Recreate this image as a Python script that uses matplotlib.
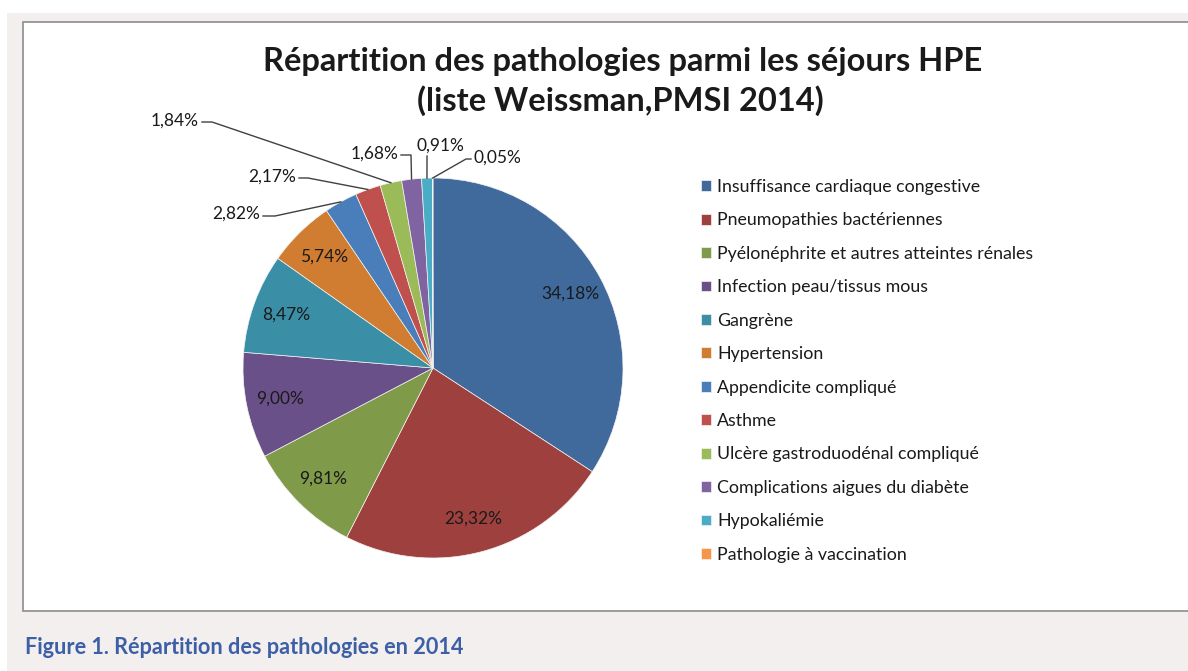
import matplotlib
matplotlib.use("Agg")
import matplotlib.pyplot as plt
from matplotlib.patches import Rectangle
import numpy as np

plt.rcParams['font.family'] = ['Lato', 'DejaVu Sans']

categories = ["Insuffisance cardiaque congestive",
              "Pneumopathies bactériennes",
              "Pyélonéphrite et autres atteintes rénales",
              "Infection peau/tissus mous",
              "Gangrène",
              "Hypertension",
              "Appendicite compliqué",
              "Asthme",
              "Ulcère gastroduodénal compliqué",
              "Complications aigues du diabète",
              "Hypokaliémie",
              "Pathologie à vaccination"]
values = [34.18, 23.32, 9.81, 9.00, 8.47, 5.74, 2.82, 2.17, 1.84, 1.68, 0.91, 0.05]
colors = ['#40699c', '#9e413e', '#7f9a48', '#6a5089', '#3a8fa6', '#d07c31',
          '#4a7ebb', '#c0504d', '#9bbb59', '#8064a2', '#4bacc6', '#f79646']

W, H = 1188, 671
fig = plt.figure(figsize=(W / 100, H / 100), dpi=100)
ax = fig.add_axes([0, 0, 1, 1])

# background panels (pixel coords, y measured from the bottom)
ax.add_patch(Rectangle((7, 0), W, H - 13, facecolor='#f2efee', edgecolor='none', zorder=0))
ax.add_patch(Rectangle((23, H - 611), W, 589, facecolor='white', edgecolor='#8c8c8c',
                       linewidth=1.2, zorder=1))

cx, cy, r = 433, H - 368, 190
lab_fs = 12.5


def pct(p):
    return (f"{p:.2f}%".replace('.', ',')) if p > 5 else ''


wedges, texts, autotexts = ax.pie(values, colors=colors, startangle=90, counterclock=False,
                                  radius=r, center=(cx, cy), autopct=pct, pctdistance=0.82,
                                  wedgeprops=dict(edgecolor='#f4f4f4', linewidth=0.5, zorder=2),
                                  textprops=dict(fontsize=lab_fs, color='#1a1a1a'), frame=True)
for t in autotexts:
    t.set_zorder(3)

# leader labels for the small slices: text x, text y, ha, elbow x, elbow y (pixels from top)
leaders = {6: (260, 214, 'right', 275, 216),
           7: (296, 177, 'right', 308, 178),
           8: (199, 121, 'right', 212, 122),
           9: (398, 154, 'right', 411, 155),
           10: (440, 146, 'center', 427, 156),
           11: (473, 158, 'left', 466, 159)}
for i, (tx, ty, ha, ex, ey) in leaders.items():
    w = wedges[i]
    th = np.deg2rad((w.theta1 + w.theta2) / 2)
    px, py = cx + r * np.cos(th), cy + r * np.sin(th)
    label = f"{values[i]:.2f}%".replace('.', ',')
    ax.text(tx, H - ty, label, ha=ha, va='center', fontsize=lab_fs, color='#1a1a1a', zorder=3)
    if ha == 'right':
        sx = tx + 3
    elif ha == 'left':
        sx = tx - 2
    else:
        sx = ex
    ax.plot([sx, ex, px], [H - ey, H - ey, py], color='#404040', linewidth=1.0, zorder=3)

ax.text(623, H - 62, "Répartition des pathologies parmi les séjours HPE",
        ha='center', va='center', fontsize=23.5, fontweight='bold', color='#1a1a1a', zorder=3)
ax.text(620, H - 101, "(liste Weissman,PMSI 2014)",
        ha='center', va='center', fontsize=23.5, fontweight='bold', color='#1a1a1a', zorder=3)

leg = ax.legend(wedges, categories, loc='upper left', bbox_to_anchor=(701 / W, 1 - 179 / H),
                bbox_transform=fig.transFigure, frameon=False, fontsize=12.8,
                handlelength=0.56, handleheight=0.56, handletextpad=0.36, labelspacing=0.98,
                borderaxespad=0, borderpad=0)
for txt in leg.get_texts():
    txt.set_color('#1a1a1a')

ax.text(25, H - 648, "Figure 1. Répartition des pathologies en 2014", ha='left', va='center',
        fontsize=15.6, fontweight='bold', color='#3d5fa6', zorder=3)

ax.set_xlim(0, W)
ax.set_ylim(0, H)
ax.set_aspect('equal', adjustable='box')
ax.axis('off')

fig.savefig("out.png", dpi=100, facecolor='white')
